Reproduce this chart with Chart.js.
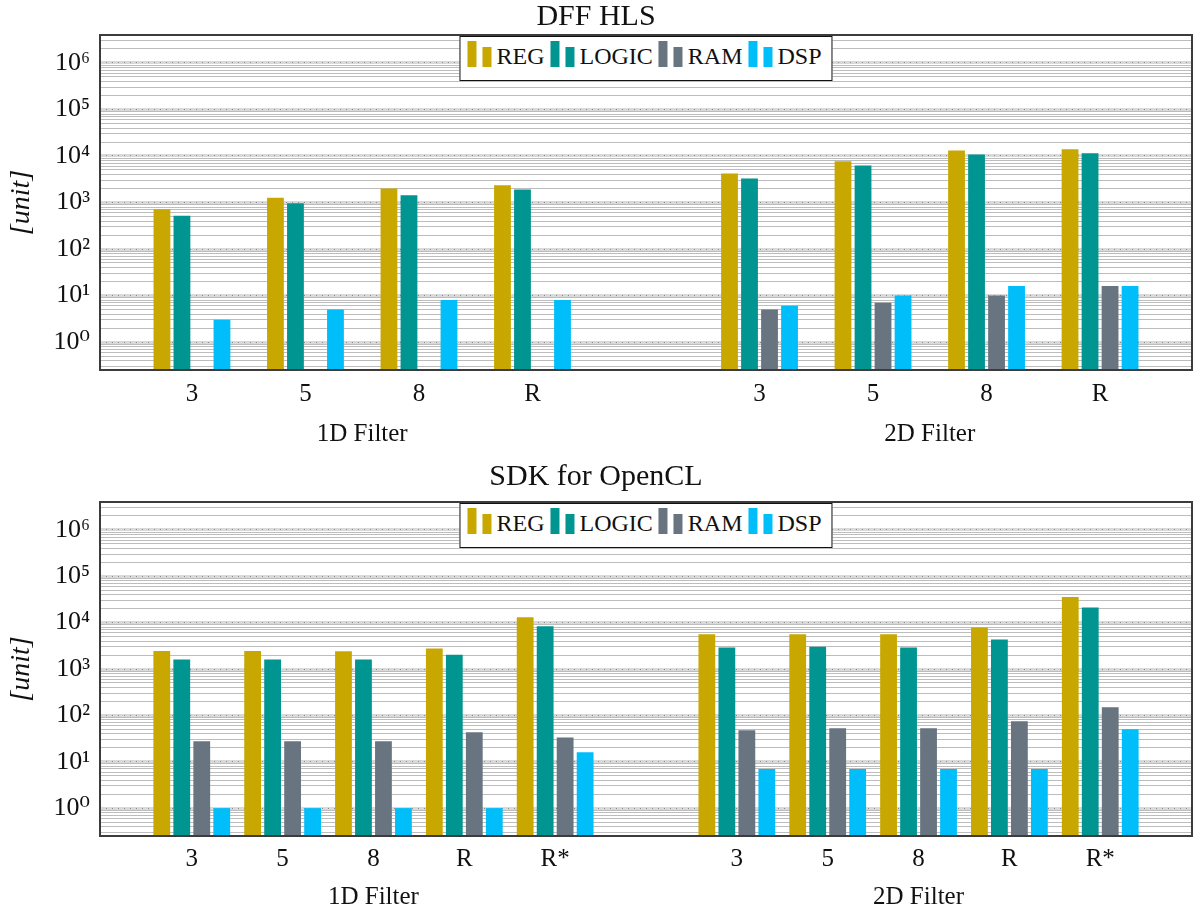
<!DOCTYPE html>
<html lang="en">
<head>
<meta charset="UTF-8">
<title>DFF HLS vs SDK for OpenCL</title>
<script src="https://cdn.jsdelivr.net/npm/chart.js"></script>
<style>
    body { margin: 0; background: #fff; }
    .panel { position: relative; width: 1203px; }
    .legend {
        position: absolute;
        transform: translateX(-50%);
        display: flex;
        align-items: center;
        height: 43px;
        padding: 0 10px 0 7px;
        background: #fff;
        border: 1.5px solid #111;
        font: 24px 'Liberation Serif', 'DejaVu Serif', serif;
        color: #111;
        white-space: nowrap;
    }
    .legend .item { display: flex; align-items: flex-end; margin-right: 6px; }
    .legend .item:last-child { margin-right: 0; }
    .legend i { display: inline-block; width: 9px; height: 26px; margin-right: 6px; margin-bottom: 9px; }
    .legend i.short { height: 20px; margin-right: 5px; }
    .legend span.txt { line-height: 1; margin-bottom: 8px; }
</style>
</head>
<body>
<div class="panel" style="height:455px">
    <canvas id="hls" width="1203" height="455"></canvas>
    <div class="legend" id="hlsLegend"></div>
</div>
<div class="panel" style="height:460px">
    <canvas id="ocl" width="1203" height="460"></canvas>
    <div class="legend" id="oclLegend"></div>
</div>

<script>
const seriesNames = ['REG', 'LOGIC', 'RAM', 'DSP'];
const seriesColors = ['#c8a800', '#009590', '#68747f', '#00bef9'];
const groupLabels = ['1D Filter', '2D Filter'];

// DFF HLS (1D filter then 2D filter)
const hlsSizes = ['3', '5', '8', 'R'];
const hlsReg   = [720, 1270, 2000, 2350, 4200, 7750, 13200, 13900];
const hlsLogic = [520, 960, 1430, 1900, 3280, 6250, 10800, 11400];
const hlsRam   = [null, null, null, null, 5, 7, 10, 16];
const hlsDsp   = [3, 5, 8, 8, 6, 10, 16, 16];

// SDK for OpenCL
const oclSizes = ['3', '5', '8', 'R', 'R*'];
const oclReg   = [2430, 2450, 2400, 2780, 13100, 5650, 5650, 5650, 7850, 35800];
const oclLogic = [1610, 1610, 1610, 2030, 8400, 2920, 3020, 2920, 4340, 21100];
const oclRam   = [27.5, 27.5, 27.5, 43, 33.5, 48, 53, 53, 75, 150];
const oclDsp   = [1, 1, 1, 1, 16, 7, 7, 7, 7, 50];

const yMin = 0.25, yMax = 4e6;
const sup = { '-1': '⁻¹', 0: '⁰', 1: '¹', 2: '²', 3: '³', 4: '⁴', 5: '⁵', 6: '⁶' };
const serif = "'Liberation Serif', 'DejaVu Serif', serif";

function isDecade(v) {
    const l = Math.log10(v);
    return Math.abs(l - Math.round(l)) < 1e-6;
}

function logTicks(axis, decadesOnly) {
    const t = [];
    for (let k = -1; k <= 6; k++) {
        for (let m = 1; m <= 9; m++) {
            if (decadesOnly && m > 1) continue;
            const v = m * Math.pow(10, k);
            if (v >= axis.min && v <= axis.max) t.push({ value: v });
        }
    }
    axis.ticks = t;
}

// dark frame around the plot area
const framePlugin = {
    id: 'frame',
    afterDatasetsDraw(chart) {
        const { ctx, chartArea: a } = chart;
        ctx.save();
        ctx.strokeStyle = '#3c3c3c';
        ctx.lineWidth = 2;
        ctx.strokeRect(a.left, a.top, a.right - a.left, a.bottom - a.top);
        ctx.restore();
    }
};

function makeChart(id, legendId, title, sizes, series, opt) {
    const n = sizes.length;
    const slots = [];
    groupLabels.forEach((g, gi) => sizes.forEach((s, i) => slots.push({ x: gi * (n + 1) + i, label: s })));
    const labelAt = {};
    slots.forEach(s => labelAt[s.x] = s.label);
    const groupAt = {};
    groupLabels.forEach((g, gi) => groupAt[gi * (n + 1) + (n - 1) / 2] = g);

    const datasets = seriesNames.map((name, k) => ({
        label: name,
        data: slots.map((s, j) => ({ x: s.x, y: series[k][j] })),
        backgroundColor: seriesColors[k],
        borderWidth: 0,
        categoryPercentage: opt.catPct,
        barPercentage: 0.84
    }));

    const chart = new Chart(document.getElementById(id), {
        type: 'bar',
        data: { datasets: datasets },
        plugins: [framePlugin],
        options: {
            responsive: false,
            animation: false,
            layout: { padding: { left: 0, right: 11, top: 0, bottom: 0 } },
            plugins: {
                legend: { display: false },
                tooltip: { enabled: false },
                title: {
                    display: true,
                    text: title,
                    color: '#111',
                    font: { family: serif, size: 30, weight: 'normal', lineHeight: 1 },
                    padding: opt.titlePad
                }
            },
            scales: {
                x: {
                    type: 'linear',
                    position: 'bottom',
                    offset: false,
                    min: opt.xMin,
                    max: opt.xMax,
                    grid: { display: false, offset: false },
                    border: { display: false },
                    afterBuildTicks: axis => { axis.ticks = slots.map(s => ({ value: s.x })); },
                    afterFit: axis => { axis.height = opt.xHeight; },
                    ticks: {
                        autoSkip: false,
                        maxRotation: 0,
                        padding: opt.xPad,
                        color: '#111',
                        font: { family: serif, size: 25 },
                        callback: v => labelAt[v] !== undefined ? labelAt[v] : ''
                    }
                },
                x2: {
                    axis: 'x',
                    type: 'linear',
                    position: 'bottom',
                    offset: false,
                    min: opt.xMin,
                    max: opt.xMax,
                    grid: { display: false, offset: false },
                    border: { display: false },
                    afterBuildTicks: axis => { axis.ticks = Object.keys(groupAt).map(v => ({ value: +v })); },
                    afterFit: axis => { axis.height = opt.x2Height; },
                    ticks: {
                        autoSkip: false,
                        maxRotation: 0,
                        padding: 1,
                        color: '#111',
                        font: { family: serif, size: 25 },
                        callback: v => groupAt[v] || ''
                    }
                },
                y: {
                    type: 'logarithmic',
                    position: 'left',
                    min: yMin,
                    max: yMax,
                    border: { display: false },
                    afterBuildTicks: axis => logTicks(axis, false),
                    afterFit: axis => { axis.width = 100; },
                    grid: {
                        drawTicks: false,
                        color: c => c.tick && isDecade(c.tick.value) ? '#d9d9d9' : '#bdbdbd',
                        lineWidth: c => c.tick && isDecade(c.tick.value) ? 3 : 1
                    },
                    ticks: {
                        autoSkip: false,
                        padding: 10,
                        color: '#111',
                        font: { family: serif, size: 26 },
                        callback: v => isDecade(v) ? '10' + sup[Math.round(Math.log10(v))] : ''
                    },
                    title: {
                        display: true,
                        text: '[unit]',
                        color: '#111',
                        font: { family: serif, size: 28, style: 'italic' },
                        padding: { top: 5, bottom: 4 }
                    }
                },
                // dotted overlay on the decade lines
                yd: {
                    axis: 'y',
                    type: 'logarithmic',
                    position: 'left',
                    min: yMin,
                    max: yMax,
                    afterBuildTicks: axis => logTicks(axis, true),
                    afterFit: axis => { axis.width = 0; },
                    border: { display: false, dash: [1, 5] },
                    grid: { drawTicks: false, color: '#8c8c8c', lineWidth: 1 },
                    ticks: { display: false }
                }
            }
        }
    });

    // legend box inside the top of the plot
    const el = document.getElementById(legendId);
    el.innerHTML = seriesNames.map((name, k) =>
        `<span class="item"><i style="background:${seriesColors[k]}"></i><i class="short" style="background:${seriesColors[k]}"></i><span class="txt">${name}</span></span>`
    ).join('');
    const a = chart.chartArea;
    el.style.left = ((a.left + a.right) / 2) + 'px';
    el.style.top = (a.top + 1) + 'px';
    return chart;
}

makeChart('hls', 'hlsLegend', 'DFF HLS', hlsSizes, [hlsReg, hlsLogic, hlsRam, hlsDsp], {
    xMin: -0.81, xMax: 8.81, catPct: 0.705,
    titlePad: { top: 2, bottom: 3 }, xHeight: 40, x2Height: 45, xPad: 1
});

makeChart('ocl', 'oclLegend', 'SDK for OpenCL', oclSizes, [oclReg, oclLogic, oclRam, oclDsp], {
    xMin: -1.01, xMax: 11.01, catPct: 0.88,
    titlePad: { top: 7, bottom: 10 }, xHeight: 37, x2Height: 42, xPad: 0
});
</script>
</body>
</html>
